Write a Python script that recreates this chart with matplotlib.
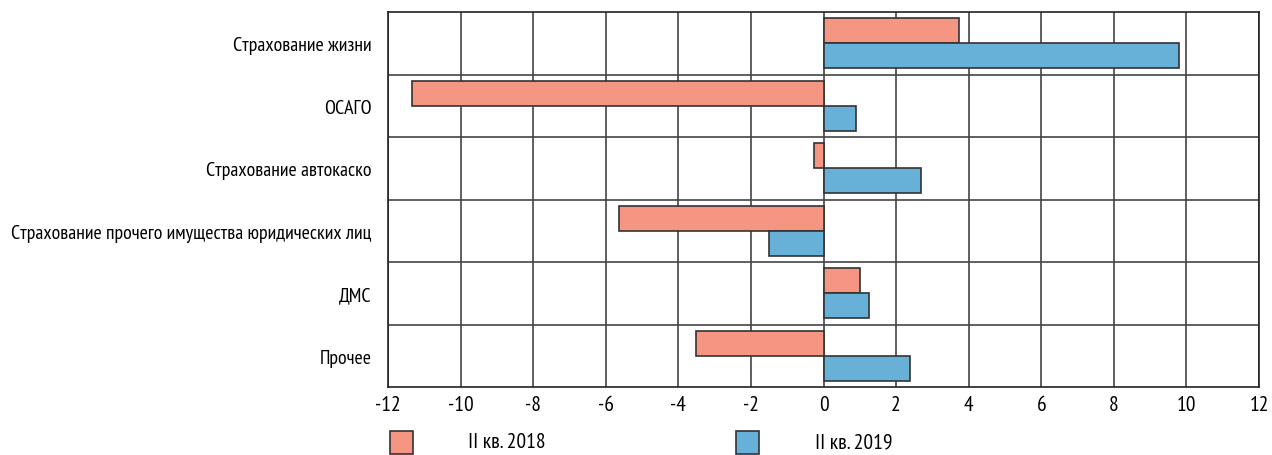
import matplotlib
matplotlib.use("Agg")
import matplotlib.pyplot as plt
from matplotlib import font_manager as fm
from matplotlib.patches import Rectangle
import numpy as np

categories = ["Страхование жизни", "ОСАГО", "Страхование автокаско",
              "Страхование прочего имущества юридических лиц", "ДМС", "Прочее"]
values_2018 = [3.74, -11.33, -0.26, -5.63, 1.01, -3.52]
values_2019 = [9.80, 0.89, 2.70, -1.51, 1.24, 2.39]
series_labels = ["II кв. 2018", "II кв. 2019"]
xticks = list(range(-12, 13, 2))

names = {f.name for f in fm.fontManager.ttflist}
fam = "DejaVu Sans"
for cand in ["PT Sans Narrow", "Fira Sans Extra Condensed", "Roboto Condensed"]:
    if cand in names:
        fam = cand
        break
plt.rcParams['font.family'] = [fam, 'DejaVu Sans']

c18 = "#F59682"
c19 = "#67B0D8"
edge = "#333333"

W, H = 1272, 456
fig = plt.figure(figsize=(W/100, H/100), dpi=100)
ax = fig.add_axes([388/W, 1-388/H, (1259-388)/W, (388-13)/H])

n = len(categories)
y = np.arange(n)
h = 0.4
ax.barh(y - h/2, values_2018, height=h, color=c18, edgecolor=edge, linewidth=1.2, zorder=3)
ax.barh(y + h/2, values_2019, height=h, color=c19, edgecolor=edge, linewidth=1.2, zorder=3)

ax.set_xlim(-12, 12)
ax.set_ylim(n - 0.5, -0.5)
ax.set_xticks(xticks)
ax.set_xticklabels([str(t) for t in xticks], fontsize=15.5)
ax.set_yticks(y)
ax.set_yticklabels(categories, fontsize=14.3)
ax.tick_params(axis="y", length=0, pad=12)
ax.tick_params(axis="x", length=0, pad=6)
for xv in xticks:
    ax.axvline(xv, color="#444444", linewidth=1.2, zorder=1)
for yv in np.arange(0.5, n - 0.5, 1):
    ax.axhline(yv, color="#444444", linewidth=1.2, zorder=1)
for s in ax.spines.values():
    s.set_color("#222222")
    s.set_linewidth(1.2)

# legend
for (x0, tx, lab, col) in [(390, 468, series_labels[0], c18), (736, 815, series_labels[1], c19)]:
    fig.patches.append(Rectangle((x0/W, 1-455/H), 23/W, 23/H, transform=fig.transFigure,
                                 facecolor=col, edgecolor=edge, linewidth=1.2))
    fig.text(tx/W, 1-443/H, lab, fontsize=15.5, va="center", ha="left")

fig.savefig("out.png", dpi=100)
